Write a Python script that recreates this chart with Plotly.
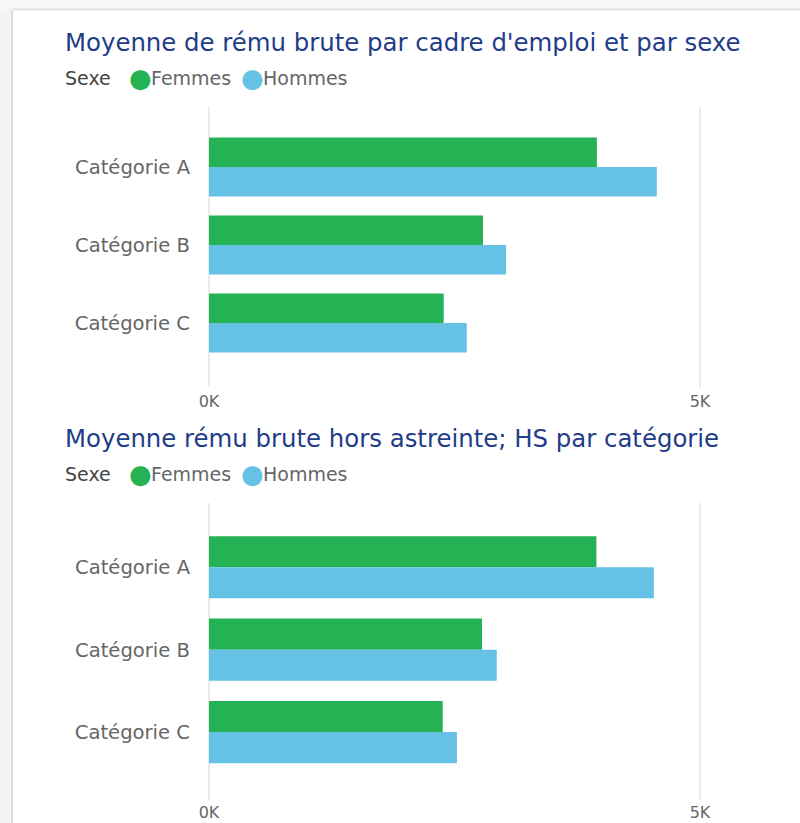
import plotly.graph_objects as go
from plotly.subplots import make_subplots

# Data
categories = ["Catégorie A", "Catégorie B", "Catégorie C"]
series_names = ["Femmes", "Hommes"]
remu_brute_femmes = [3950, 2790, 2390]
remu_brute_hommes = [4560, 3025, 2625]
remu_hors_astreinte_femmes = [3945, 2780, 2380]
remu_hors_astreinte_hommes = [4530, 2930, 2525]
tick_values = [0, 5000]
tick_labels = ["0K", "5K"]
panel_titles = [
    "Moyenne de rému brute par cadre d'emploi et par sexe",
    "Moyenne rému brute hors astreinte; HS par catégorie",
]

W, H = 800, 823
GREEN = "#24B254"
BLUE = "#66C2E5"
TITLE_COLOR = "#1F3D88"
LABEL_COLOR = "#666666"
FONT = "DejaVu Sans"


def px_x(x):
    return x / W


def px_y(y):
    return 1 - y / H


fig = make_subplots(rows=2, cols=1)

panels = [
    (remu_brute_femmes, remu_brute_hommes),
    (remu_hors_astreinte_femmes, remu_hors_astreinte_hommes),
]
for row, (fem, hom) in enumerate(panels, start=1):
    for name, vals, color in zip(series_names, [fem, hom], [GREEN, BLUE]):
        fig.add_trace(
            go.Bar(
                y=categories,
                x=vals,
                name=name,
                orientation="h",
                marker=dict(color=color, line=dict(width=0)),
                showlegend=False,
            ),
            row=row,
            col=1,
        )

# Horizontal scale: pixel position of 0 and of 5000, right edge of the plot area
x_zero, x_five, x_right = 209, 700, 760
px_per_unit = (x_five - x_zero) / 5000
x_min = -30  # keeps the gridline at zero inside the plot area
x_left = x_zero + x_min * px_per_unit
x_max = (x_right - x_zero) / px_per_unit

panel_geom = [
    dict(top=107, bottom=387, yrange=[2.82, -0.77], standoff=3),
    dict(top=503, bottom=800, yrange=[2.825, -0.78], standoff=1),
]

for i, g in enumerate(panel_geom, start=1):
    xa = "xaxis" if i == 1 else f"xaxis{i}"
    ya = "yaxis" if i == 1 else f"yaxis{i}"
    fig.layout[xa].update(
        domain=[px_x(x_left), px_x(x_right)],
        range=[x_min, x_max],
        tickvals=tick_values,
        ticktext=tick_labels,
        showgrid=True,
        gridcolor="#EBEBEB",
        gridwidth=2,
        zeroline=False,
        showline=False,
        ticks="",
        ticklabelstandoff=g["standoff"],
        tickfont=dict(family=FONT, size=16, color=LABEL_COLOR),
        automargin=False,
        fixedrange=True,
    )
    fig.layout[ya].update(
        domain=[px_y(g["bottom"]), px_y(g["top"])],
        type="category",
        range=g["yrange"],
        showgrid=False,
        zeroline=False,
        showline=False,
        ticks="",
        ticklabelstandoff=15,
        tickfont=dict(family=FONT, size=19.6, color=LABEL_COLOR),
        automargin=False,
        fixedrange=True,
    )

annotations = []
legend_rows = [(42, 78), (438, 474)]
for title, (ty, ly) in zip(panel_titles, legend_rows):
    annotations.append(dict(
        text=title, x=px_x(63), y=px_y(ty), xref="paper", yref="paper",
        xanchor="left", yanchor="middle", showarrow=False,
        font=dict(family=FONT, size=24.4, color=TITLE_COLOR),
    ))
    legend_parts = [
        ("Sexe", 63, "left", 19, "#444444"),
        ("●", 140, "center", 26, GREEN),
        (series_names[0], 149, "left", 19, LABEL_COLOR),
        ("●", 253, "center", 26, BLUE),
        (series_names[1], 261, "left", 19, LABEL_COLOR),
    ]
    for text, x, anchor, size, color in legend_parts:
        annotations.append(dict(
            text=text, x=px_x(x), y=px_y(ly), xref="paper", yref="paper",
            xanchor=anchor, yanchor="middle", showarrow=False,
            font=dict(family=FONT, size=size, color=color),
        ))

shapes = [
    # card shadow along the left and top edges
    dict(type="rect", xref="paper", yref="paper", x0=0, x1=px_x(13),
         y0=0, y1=px_y(10), fillcolor="#F4F4F4", line=dict(width=0), layer="below"),
    dict(type="line", xref="paper", yref="paper", x0=px_x(12), x1=px_x(12),
         y0=0, y1=px_y(10), line=dict(color="#DCDCDC", width=2)),
    dict(type="rect", xref="paper", yref="paper", x0=0, x1=1,
         y0=px_y(10), y1=1, fillcolor="#F7F7F7", line=dict(width=0), layer="below"),
    dict(type="line", xref="paper", yref="paper", x0=px_x(12), x1=1,
         y0=px_y(9.5), y1=px_y(9.5), line=dict(color="#E4E4E4", width=2)),
]

fig.update_layout(
    width=W,
    height=H,
    margin=dict(l=0, r=0, t=0, b=0),
    paper_bgcolor="white",
    plot_bgcolor="white",
    barmode="group",
    bargap=0.245,
    bargroupgap=0,
    showlegend=False,
    annotations=annotations,
    shapes=shapes,
    font=dict(family=FONT),
)

fig.write_html("out.html", config={"displayModeBar": False})
